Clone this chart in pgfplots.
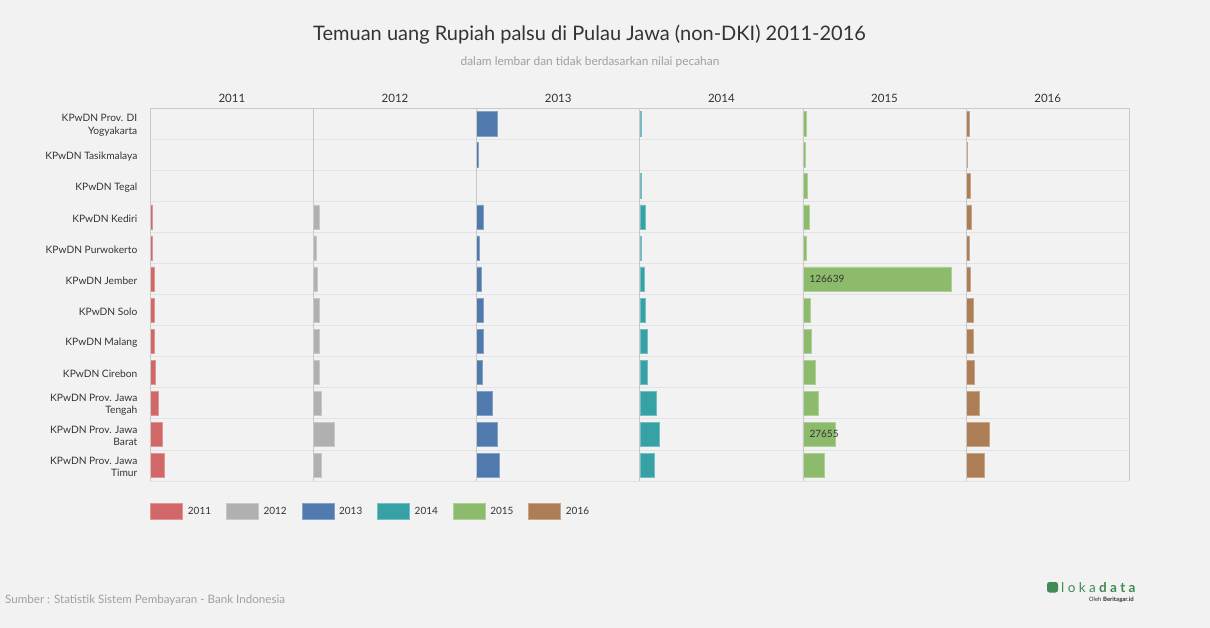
\documentclass[border=0pt]{standalone}
\usepackage{pgfplots}
\pgfplotsset{compat=1.18}
\usepackage{fontspec}
\setmainfont{Lato}
\newfontfamily\logofont[LetterSpace=25]{Lato}
\definecolor{bg}{HTML}{F2F2F2}
\definecolor{gridc}{HTML}{E3E3E3}
\definecolor{sepc}{HTML}{C9C9C9}
\definecolor{txt}{HTML}{333333}
\definecolor{subc}{HTML}{A0A0A0}
\definecolor{c2011}{HTML}{D16767}
\definecolor{c2012}{HTML}{B0B0B0}
\definecolor{c2013}{HTML}{5079AD}
\definecolor{c2014}{HTML}{36A2A6}
\definecolor{c2015}{HTML}{8DBB6C}
\definecolor{c2016}{HTML}{AD7E56}
\definecolor{logoc}{HTML}{3F8A55}
\pgfplotsset{
  panel/.style={
    width=163.17pt, height=372.7pt, scale only axis,
    anchor=north west, clip=false,
    xmin=0, xmax=139650, ymin=0.5, ymax=12.5,
    bar width=24.3pt, bar shift=0pt,
    xtick=\empty, ytick={1,...,12}, yticklabels={},
    major tick length=0pt, minor tick length=0pt,
    minor ytick={0.5,1.5,...,12.5}, yminorgrids=true,
    minor y grid style={color=gridc, line width=0.8pt},
    axis line style={draw=none},
    title style={font=\fontsize{11.5}{14}\selectfont, text=txt, anchor=base, at={(0.5,1)}, yshift=0pt},
    yticklabel style={font=\fontsize{10.2}{12.3}\selectfont, text=txt, align=right, inner sep=0pt, xshift=-12.8pt, yshift=-1.5pt},
    extra description/.code={\draw[sepc, line width=0.8pt] (0,0) -- (0,1) -- (1,1);},
  },
  barstyle/.style={xbar, forget plot, fill=#1, draw=#1!70!white, line width=0.6pt},
}
\begin{document}
\begin{tikzpicture}
\fill[bg] (0,0) rectangle (1210pt,-628pt);
\node[font=\fontsize{20}{24}\selectfont, text=txt] at (589.5pt,-35pt) {Temuan uang Rupiah palsu di Pulau Jawa (non-DKI) 2011-2016};
\node[font=\fontsize{11.9}{14}\selectfont, text=subc] at (590pt,-62pt) {dalam lembar dan tidak berdasarkan nilai pecahan};
\node[anchor=west, font=\fontsize{11.6}{14}\selectfont, text=subc, inner sep=0pt] at (5pt,-600pt) {Sumber : Statistik Sistem Pembayaran - Bank Indonesia};
\fill[logoc, rounded corners=2.5pt] (1047pt,-582pt) rectangle (1058pt,-592.5pt);
\node[anchor=west, inner sep=0pt, font=\logofont\fontsize{13.5}{15}\selectfont, text=logoc] at (1061pt,-587.5pt) {loka\textbf{data}};
\node[anchor=east, inner sep=0pt, font=\fontsize{6}{7}\selectfont, text=txt] at (1134pt,-599.5pt) {Oleh \textbf{Beritagar.id}};

% 2011
\begin{axis}[panel, at={(150.3pt,-108.3pt)}, title={2011},
  yticklabels={KPwDN Prov. Jawa\\Timur, KPwDN Prov. Jawa\\Barat, KPwDN Prov. Jawa\\Tengah, KPwDN Cirebon, KPwDN Malang, KPwDN Solo, KPwDN Jember, KPwDN Purwokerto, KPwDN Kediri, KPwDN Tegal, KPwDN Tasikmalaya, KPwDN Prov. DI\\Yogyakarta},
  legend columns=6, legend cell align=left,
  legend style={at={(0,0)}, anchor=north west, yshift=-22.3pt, draw=none, fill=none, inner sep=0pt, outer sep=0pt,
    font=\fontsize{10}{12}\selectfont, text=txt, nodes={inner sep=0pt},
    /tikz/every odd column/.style={column sep=5pt}, /tikz/every even column/.style={column sep=14.8pt}},
]
\addplot[barstyle=c2011] coordinates {(12300,1) (10500,2) (7100,3) (4600,4) (3700,5) (3700,6) (3700,7) (1700,8) (2000,9)};
\addlegendimage{legend image code/.code={\draw[fill=c2011, draw=c2011!70!white, line width=0.6pt] (0pt,-8pt) rectangle (32pt,8pt);}}
\addlegendentry{2011}
\addlegendimage{legend image code/.code={\draw[fill=c2012, draw=c2012!70!white, line width=0.6pt] (0pt,-8pt) rectangle (32pt,8pt);}}
\addlegendentry{2012}
\addlegendimage{legend image code/.code={\draw[fill=c2013, draw=c2013!70!white, line width=0.6pt] (0pt,-8pt) rectangle (32pt,8pt);}}
\addlegendentry{2013}
\addlegendimage{legend image code/.code={\draw[fill=c2014, draw=c2014!70!white, line width=0.6pt] (0pt,-8pt) rectangle (32pt,8pt);}}
\addlegendentry{2014}
\addlegendimage{legend image code/.code={\draw[fill=c2015, draw=c2015!70!white, line width=0.6pt] (0pt,-8pt) rectangle (32pt,8pt);}}
\addlegendentry{2015}
\addlegendimage{legend image code/.code={\draw[fill=c2016, draw=c2016!70!white, line width=0.6pt] (0pt,-8pt) rectangle (32pt,8pt);}}
\addlegendentry{2016}
\end{axis}

% 2012
\begin{axis}[panel, at={(313.47pt,-108.3pt)}, title={2012}]
\addplot[barstyle=c2012] coordinates {(7100,1) (17400,2) (6300,3) (4600,4) (4600,5) (4600,6) (3400,7) (2600,8) (4600,9)};
\end{axis}

% 2013
\begin{axis}[panel, at={(476.64pt,-108.3pt)}, title={2013}]
\addplot[barstyle=c2013] coordinates {(19100,1) (17400,2) (13100,3) (4600,4) (5400,5) (5400,6) (3700,7) (2000,8) (5400,9) (1400,11) (17400,12)};
\end{axis}

% 2014
\begin{axis}[panel, at={(639.81pt,-108.3pt)}, title={2014}]
\addplot[barstyle=c2014] coordinates {(12300,1) (16500,2) (14000,3) (6300,4) (6300,5) (5100,6) (3700,7) (1100,8) (4600,9) (1100,10) (1100,12)};
\end{axis}

% 2015
\begin{axis}[panel, at={(802.98pt,-108.3pt)}, title={2015}]
\addplot[barstyle=c2015] coordinates {(18300,1) (27655,2) (13100,3) (10600,4) (7100,5) (6300,6) (126639,7) (2900,8) (5400,9) (3700,10) (2000,11) (2900,12)};
\addplot[only marks, mark=none, forget plot, point meta=explicit symbolic,
  nodes near coords={\pgfplotspointmeta},
  nodes near coords style={anchor=west, inner sep=0pt, xshift=6.4pt, font=\fontsize{10}{12}\selectfont, text=txt}]
  coordinates {(0,7) [126639] (0,2) [27655]};
\end{axis}

% 2016
\begin{axis}[panel, at={(966.15pt,-108.3pt)}, title={2016},
  extra description/.append code={\draw[sepc, line width=0.8pt] (1,0) -- (1,1);}]
\addplot[barstyle=c2016] coordinates {(15700,1) (20000,2) (11400,3) (7100,4) (6300,5) (6300,6) (3700,7) (2900,8) (4600,9) (3700,10) (1100,11) (2900,12)};
\end{axis}
\end{tikzpicture}
\end{document}
